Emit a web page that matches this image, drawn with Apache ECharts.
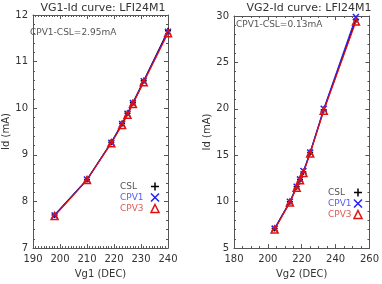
<!DOCTYPE html>
<html><head><meta charset="utf-8">
<script src="https://cdn.jsdelivr.net/npm/echarts@6/dist/echarts.min.js"></script>
<style>html,body{margin:0;padding:0;background:#fff}#c{width:382px;height:284px}</style>
</head><body><div id="c"></div>
<script>
// Left chart: VG1 sweep
var vg1 = [198, 210, 219, 223, 225, 227, 231, 240];
var id1CSL  = [7.71, 8.47, 9.27, 9.67, 9.89, 10.12, 10.59, 11.66];
var id1CPV1 = [7.70, 8.47, 9.26, 9.66, 9.88, 10.11, 10.58, 11.64];
var id1CPV3 = [7.69, 8.46, 9.25, 9.64, 9.86, 10.09, 10.56, 11.61];
// Right chart: VG2 sweep
var vg2 = [204, 213, 217, 219, 221, 225, 233, 252];
var id2CSL  = [7.1, 10.0, 11.6, 12.4, 13.2, 15.3, 19.9, 29.6];
var id2CPV1 = [7.1, 10.0, 11.6, 12.4, 13.3, 15.3, 20.0, 29.9];
var id2CPV3 = [7.0, 9.9, 11.5, 12.3, 13.1, 15.2, 19.8, 29.4];
var titles = ['VG1-Id curve: LFI24M1', 'VG2-Id curve: LFI24M1'];
var notes = ['CPV1-CSL=2.95mA', 'CPV1-CSL=0.13mA'];
var xNames = ['Vg1 (DEC)', 'Vg2 (DEC)'];
var yName = 'Id (mA)';
var seriesNames = ['CSL', 'CPV1', 'CPV3'];

var FONT = 'DejaVu Sans';
var axisCol = '#555';
var txtCol = '#333';
var plusPath = 'path://M5,0L5,10M0,5L10,5';
var crossPath = 'path://M0,0L10,10M10,0L0,10';
var colors = ['#000000', '#1f1fff', '#e01010'];
var symbols = [plusPath, crossPath, 'triangle'];
var legendText = ['#555555', '#5a5aff', '#e05a5a'];

function mkAxis(grid, isX, min, max, interval, minorSplit, showLabel, pos, name, nameGap) {
  var a = {
    type: 'value', gridIndex: grid, min: min, max: max, interval: interval, position: pos,
    axisLine: {show: true, onZero: false, lineStyle: {color: axisCol, width: 1}},
    axisTick: {show: true, inside: true, length: 4, lineStyle: {color: axisCol}},
    minorTick: {show: true, splitNumber: minorSplit, length: 2, lineStyle: {color: axisCol}},
    splitLine: {show: false},
    axisLabel: {show: showLabel, color: txtCol, fontFamily: FONT, fontSize: 10, margin: isX ? 6 : 5}
  };
  if (name) {
    a.name = name; a.nameLocation = 'middle'; a.nameGap = nameGap;
    a.nameTextStyle = {color: txtCol, fontFamily: FONT, fontSize: 10};
  }
  return a;
}

var xAxes = [
  mkAxis(0, true, 190, 240, 10, 10, true, 'bottom', xNames[0], 18),
  mkAxis(0, true, 190, 240, 10, 10, false, 'top'),
  mkAxis(1, true, 180, 260, 20, 4, true, 'bottom', xNames[1], 18),
  mkAxis(1, true, 180, 260, 20, 4, false, 'top')
];
var yAxes = [
  mkAxis(0, false, 7, 12, 1, 5, true, 'left', yName, 22),
  mkAxis(0, false, 7, 12, 1, 5, false, 'right'),
  mkAxis(1, false, 5, 30, 5, 5, true, 'left', yName, 21),
  mkAxis(1, false, 5, 30, 5, 5, false, 'right')
];

function pairs(xs, ys) { return xs.map(function (x, i) { return [x, ys[i]]; }); }
var dataSets = [[id1CSL, id1CPV1, id1CPV3], [id2CSL, id2CPV1, id2CPV3]];
var xsets = [vg1, vg2];
var series = [];
for (var g = 0; g < 2; g++) {
  for (var s = 0; s < 3; s++) {
    series.push({
      name: seriesNames[s], type: 'line', xAxisIndex: g * 2, yAxisIndex: g * 2,
      data: pairs(xsets[g], dataSets[g][s]),
      symbol: symbols[s], symbolSize: s === 2 ? 7 : 6,
      lineStyle: {color: colors[s], width: 1.2},
      itemStyle: {color: 'none', borderColor: colors[s], borderWidth: 1.5},
      animation: false, z: 2 + s
    });
  }
}

function mkLegend(left, top, w) {
  return {
    left: left, top: top, orient: 'vertical', align: 'right', itemGap: -2,
    itemWidth: 8, itemHeight: 8, selectedMode: false, padding: 0,
    formatter: function (n) { return '{t|' + n + '}'; },
    data: seriesNames.map(function (n, i) {
      return {name: n, icon: symbols[i],
        itemStyle: {color: 'none', borderColor: colors[i], borderWidth: 1.5},
        textStyle: {color: legendText[i], fontFamily: FONT, fontSize: 9, lineHeight: 10,
          rich: {t: {width: w, height: 10, lineHeight: 10, align: 'left', color: legendText[i], fontFamily: FONT, fontSize: 9}}}};
    })
  };
}

var chart = echarts.init(document.getElementById('c'), null, {renderer: 'canvas'});
chart.setOption({
  backgroundColor: '#fff',
  animation: false,
  title: [
    {text: titles[0], left: 98, top: -2, textAlign: 'center', textStyle: {color: txtCol, fontFamily: FONT, fontSize: 11, fontWeight: 'normal'}},
    {text: titles[1], left: 304, top: -2, textAlign: 'center', textStyle: {color: txtCol, fontFamily: FONT, fontSize: 11, fontWeight: 'normal'}}
  ],
  grid: [
    {left: 29, top: 15, width: 139, height: 241},
    {left: 234, top: 16, width: 140, height: 239}
  ],
  xAxis: xAxes,
  yAxis: yAxes,
  legend: [mkLegend(120, 180, 26), mkLegend(328, 186, 21)],
  graphic: [
    {type: 'text', left: 30, top: 28, style: {text: notes[0], fill: '#555', font: '9px "' + FONT + '"'}},
    {type: 'text', left: 236, top: 20, style: {text: notes[1], fill: '#555', font: '9px "' + FONT + '"'}}
  ],
  series: series
});
</script></body></html>
